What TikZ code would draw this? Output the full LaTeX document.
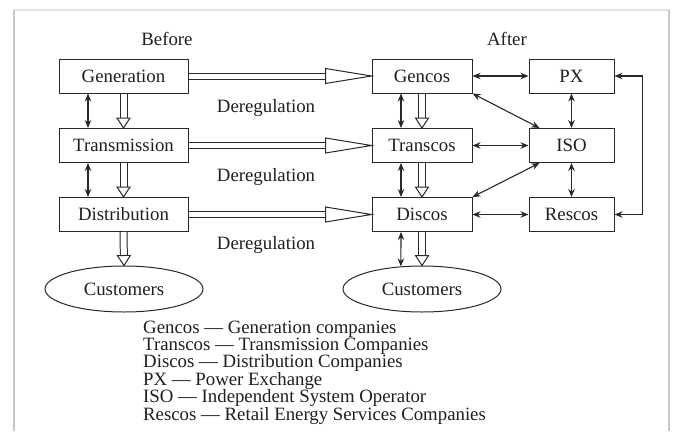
\documentclass[tikz,border=0pt]{standalone}
\usepackage{fontspec}
\setmainfont{Liberation Serif}
\usepackage{tikz}
\usetikzlibrary{arrows.meta,positioning,calc,shapes.geometric}
\usepackage{xcolor}
\definecolor{inkgray}{RGB}{40,40,40}
\definecolor{framegray}{RGB}{200,200,200}
% hollow arrow: start, tip, head length, head half width, double distance
\newcommand{\hollowarr}[5]{%
  \coordinate (hb) at ($(#2)!#3!(#1)$);
  \draw[inkgray,line width=1pt,double=white,double distance=#5] (#1) -- (hb);
  \draw[inkgray,line width=1pt,fill=white,line join=miter] ($(hb)!#4!90:(#2)$) -- (#2) -- ($(hb)!#4!-90:(#2)$) -- cycle;
}

\begin{document}
\begin{tikzpicture}[x=1pt,y=-1pt,
    every node/.style={font=\fontsize{18.8}{17.4}\selectfont,text=black!88},
    bigbox/.style={draw=inkgray,line width=1pt,minimum width=129pt,minimum height=34pt,inner sep=0pt},
    midbox/.style={bigbox,minimum width=100pt},
    smallbox/.style={bigbox,minimum width=85pt},
    custnode/.style={ellipse,draw=inkgray,line width=1pt,minimum width=158pt,minimum height=46pt,inner sep=0pt},
    biarrow/.style={inkgray,line width=1.1pt,{Stealth[length=8pt,width=6.5pt]}-{Stealth[length=8pt,width=6.5pt]}}]
  \useasboundingbox (0,0) rectangle (674,431);
  % frame
  \draw[framegray!50,line width=1.5pt] (14,10) -- (669,10);
  \draw[framegray,line width=2pt] (14,10) -- (14,431);
  \draw[framegray,line width=2pt] (669,10) -- (669,431);

  \node (before) at (167,39) {Before};
  \node (after) at (507,39) {After};

  % before
  \node[bigbox] (gen) at (123.5,76) {Generation};
  \node[bigbox] (trans) at (123.5,145.5) {Transmission};
  \node[bigbox] (dist) at (123.5,214.5) {Distribution};
  \node[custnode] (cust1) at (124,289) {Customers};

  % after
  \node[midbox] (gencos) at (422,76) {Gencos};
  \node[midbox] (transcos) at (422,145.5) {Transcos};
  \node[midbox] (discos) at (422,214.5) {Discos};
  \node[custnode] (cust2) at (422,289) {Customers};
  \node[smallbox] (px) at (571.5,76) {PX};
  \node[smallbox] (iso) at (571.5,145.5) {ISO};
  \node[smallbox] (rescos) at (571.5,214.5) {Rescos};

  \node (dereg1) at (266,108) {Deregulation};
  \node (dereg2) at (266,177) {Deregulation};
  \node (dereg3) at (266,245) {Deregulation};

  % hollow arrows
  \hollowarr{gen.east}{gencos.west}{46pt}{7.5pt}{5pt}
  \hollowarr{trans.east}{transcos.west}{46pt}{7.5pt}{5pt}
  \hollowarr{dist.east}{discos.west}{46pt}{7.5pt}{5pt}
  \hollowarr{gen.south}{trans.north}{10pt}{6.5pt}{6pt}
  \hollowarr{trans.south}{dist.north}{10pt}{6.5pt}{6pt}
  \hollowarr{dist.south}{cust1.north}{10pt}{6.5pt}{6pt}
  \hollowarr{gencos.south}{transcos.north}{10pt}{6.5pt}{6pt}
  \hollowarr{transcos.south}{discos.north}{10pt}{6.5pt}{6pt}
  \hollowarr{discos.south}{cust2.north}{10pt}{6.5pt}{6pt}

  % two-way arrows
  \draw[biarrow] ($(gen.south)+(-35.5,0)$) -- ($(trans.north)+(-35.5,0)$);
  \draw[biarrow] ($(trans.south)+(-35.5,0)$) -- ($(dist.north)+(-35.5,0)$);
  \draw[biarrow] ($(gencos.south)+(-21,0)$) -- ($(transcos.north)+(-21,0)$);
  \draw[biarrow] ($(transcos.south)+(-21,0)$) -- ($(discos.north)+(-21,0)$);
  \draw[biarrow] ($(discos.south)+(-21,0)$) -- (cust2.133);
  \draw[biarrow] (gencos.east) -- (px.west);
  \draw[biarrow] (transcos.east) -- (iso.west);
  \draw[biarrow] (discos.east) -- (rescos.west);
  \draw[biarrow] (px.south) -- (iso.north);
  \draw[biarrow] (iso.south) -- (rescos.north);
  \draw[biarrow] (gencos.south east) -- ($(iso.north west)+(11,0)$);
  \draw[biarrow] (discos.north east) -- ($(iso.south west)+(11,0)$);
  \draw[biarrow] (px.east) -- ++(28,0) |- (rescos.east);

  % legend
  \foreach \txt [count=\i from 0] in {Gencos --- Generation companies,
      Transcos --- Transmission Companies,
      Discos --- Distribution Companies,
      PX --- Power Exchange,
      ISO --- Independent System Operator,
      Rescos --- Retail Energy Services Companies} {
    \node[anchor=base west,inner sep=0pt] (leg\i) at (143,333+17.4*\i) {\txt};
  }
\end{tikzpicture}
\end{document}
